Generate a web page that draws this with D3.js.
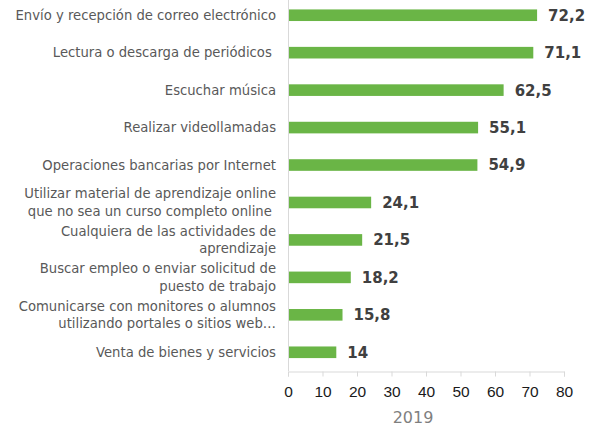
<!DOCTYPE html>
<html lang="es">
<head>
<meta charset="UTF-8">
<title>Actividades en Internet 2019</title>
<script src="https://d3js.org/d3.v7.min.js"></script>
<style>
	body { margin: 0; background: #fff; }
	svg { display: block; font-family: "DejaVu Sans", sans-serif; }
	.cat { fill: #595959; font-size: 13.2px; white-space: pre; }
	.val { fill: #404040; font-size: 15px; font-weight: bold; }
	.tick text { fill: #1a1a1a; font-size: 15.5px; }
	.axisline { stroke: #d9d9d9; }
</style>
</head>
<body>
<script>
	// categories (already split in lines as in the picture)
	var categories = [
		["Envío y recepción de correo electrónico"],
		["Lectura o descarga de periódicos "],
		["Escuchar música"],
		["Realizar videollamadas"],
		["Operaciones bancarias por Internet"],
		["Utilizar material de aprendizaje online", "que no sea un curso completo online "],
		["Cualquiera de las actividades de", "aprendizaje"],
		["Buscar empleo o enviar solicitud de", "puesto de trabajo"],
		["Comunicarse con monitores o alumnos", "utilizando portales o sitios web…"],
		["Venta de bienes y servicios"]
	];
	var values = [72.2, 71.1, 62.5, 55.1, 54.9, 24.1, 21.5, 18.2, 15.8, 14];
	var xTicks = [0, 10, 20, 30, 40, 50, 60, 70, 80];
	var axisTitle = "2019";

	var width = 590,
		height = 427;

	var x0 = 288, x1 = 564,
		yTop = -3.5, yBottom = 371;

	var svg = d3.select("body").append("svg")
		.attr("width", width)
		.attr("height", height);

	var x = d3.scaleLinear()
		.domain([0, 80])
		.range([x0, x1]);

	var y = d3.scaleBand()
		.domain(d3.range(values.length))
		.range([yTop, yBottom])
		.paddingInner(0.69)
		.paddingOuter(0.345);

	// vertical axis line
	svg.append("line")
		.attr("class", "axisline")
		.attr("x1", x0 + 0.5).attr("x2", x0 + 0.5)
		.attr("y1", 0).attr("y2", yBottom);

	// bottom axis
	var xAxis = d3.axisBottom(x)
		.tickValues(xTicks)
		.tickSize(5)
		.tickPadding(9)
		.tickFormat(d3.format("d"));

	var gx = svg.append("g")
		.attr("transform", "translate(0," + (yBottom + 0.5) + ")")
		.call(xAxis);
	gx.select(".domain").attr("stroke", "#d9d9d9");
	gx.selectAll(".tick line").attr("stroke", "#d9d9d9");
	gx.selectAll(".tick text").attr("font-family", null).attr("font-size", null);

	svg.append("text")
		.attr("x", 413)
		.attr("y", 423)
		.attr("text-anchor", "middle")
		.style("font-size", "16px")
		.style("fill", "#7f7f7f")
		.text(axisTitle);

	// bars
	svg.selectAll(".bar")
		.data(values)
		.enter().append("rect")
		.attr("class", "bar")
		.attr("x", x(0) + 1)
		.attr("y", function (d, i) { return y(i); })
		.attr("width", function (d) { return x(d) - x(0) - 1; })
		.attr("height", y.bandwidth())
		.style("fill", "#6ab546");

	// value labels
	svg.selectAll(".val")
		.data(values)
		.enter().append("text")
		.attr("class", "val")
		.attr("x", function (d) { return x(d) + 11; })
		.attr("y", function (d, i) { return y(i) + y.bandwidth() / 2; })
		.attr("dy", "0.36em")
		.text(function (d) { return String(d).replace(".", ","); });

	// category labels
	var lineH = 17.5;
	var cats = svg.selectAll(".cat")
		.data(categories)
		.enter().append("text")
		.attr("class", "cat")
		.attr("text-anchor", "end")
		.attr("y", function (d, i) { return y(i) + y.bandwidth() / 2; });

	cats.selectAll("tspan")
		.data(function (d) { return d.map(function (t, k) { return { t: t, k: k, n: d.length }; }); })
		.enter().append("tspan")
		.attr("x", 276)
		.attr("dy", function (d) {
			if (d.k === 0) return (0.36 * 13.2 - (d.n - 1) * lineH / 2) + "px";
			return lineH + "px";
		})
		.text(function (d) { return d.t; });
</script>
</body>
</html>
